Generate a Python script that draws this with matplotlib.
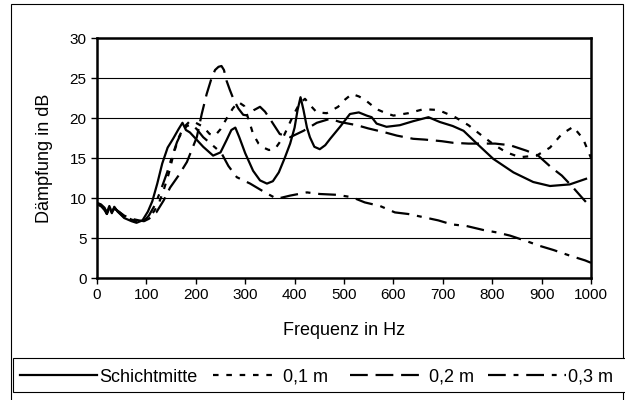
import matplotlib
matplotlib.use("Agg")
import matplotlib.pyplot as plt
from matplotlib.lines import Line2D
from matplotlib.patches import Rectangle

plt.rcParams['font.family'] = ['Liberation Sans', 'DejaVu Sans']

# --- data ---
f_mitte = [0, 8, 15, 20, 25, 30, 35, 42, 55, 70, 80, 92, 103, 112, 122, 132, 143, 154, 165, 173,
           180, 188, 200, 215, 235, 250, 262, 272, 280, 288, 300, 316, 330, 344, 356, 368, 380,
           391, 400, 406, 412, 418, 425, 431, 440, 451, 462, 472, 492, 512, 530, 546, 556, 566,
           586, 613, 640, 671, 694, 720, 742, 769, 802, 843, 883, 917, 957, 990]
d_mitte = [9.4, 9.2, 8.8, 8.2, 9.0, 8.1, 8.9, 8.3, 7.5, 7.1, 6.9, 7.2, 8.3, 9.6, 11.8, 14.3, 16.3,
           17.4, 18.6, 19.4, 18.5, 18.2, 17.4, 16.4, 15.3, 15.7, 17.2, 18.5, 18.8, 17.6, 15.6, 13.4,
           12.2, 11.8, 12.1, 13.2, 15.0, 16.8, 18.8, 21.0, 22.6, 21.0, 18.8, 17.6, 16.4, 16.1, 16.6,
           17.4, 18.9, 20.5, 20.7, 20.3, 20.1, 19.3, 18.9, 19.1, 19.6, 20.1, 19.5, 19.0, 18.4, 16.8,
           14.9, 13.2, 12.0, 11.5, 11.7, 12.4]

f_01 = [0, 8, 15, 20, 25, 30, 35, 42, 55, 70, 85, 95, 105, 115, 125, 135, 145, 155, 165, 175, 188,
        200, 215, 228, 239, 250, 262, 275, 286, 298, 308, 316, 327, 337, 348, 360, 377, 397, 410,
        421, 433, 445, 465, 488, 502, 516, 530, 542, 556, 570, 585, 600, 630, 661, 691, 725, 752,
        779, 805, 829, 856, 890, 917, 941, 964, 984, 1000]
d_01 = [9.3, 9.1, 8.6, 8.0, 8.9, 8.2, 8.8, 8.4, 7.7, 7.3, 7.0, 7.2, 7.6, 8.3, 9.3, 11.0, 13.0, 15.5,
        17.5, 18.8, 19.6, 19.4, 18.9, 18.0, 17.8, 18.6, 19.9, 21.2, 22.0, 21.5, 19.6, 18.0, 16.8,
        16.3, 16.0, 16.1, 17.6, 20.3, 21.8, 22.4, 21.5, 20.7, 20.6, 21.4, 22.3, 23.0, 22.7, 22.3,
        21.6, 21.0, 20.6, 20.3, 20.6, 21.1, 21.0, 20.1, 19.1, 17.8, 16.6, 15.7, 15.1, 15.3, 16.3,
        18.0, 18.9, 17.4, 15.0]

f_02 = [0, 8, 15, 20, 25, 30, 35, 42, 55, 70, 85, 95, 105, 120, 135, 148, 165, 182, 202, 212, 222,
        232, 239, 246, 252, 257, 262, 269, 276, 286, 296, 306, 318, 330, 340, 350, 370, 391, 418,
        445, 472, 492, 526, 549, 583, 607, 640, 664, 698, 721, 752, 775, 806, 836, 870, 893, 920,
        941, 961, 981, 1000]
d_02 = [9.2, 9.0, 8.7, 8.1, 8.8, 8.3, 8.7, 8.4, 7.8, 7.4, 7.2, 7.1, 7.4, 8.2, 9.7, 11.3, 12.8, 14.5,
        17.6, 20.5, 23.0, 25.0, 26.0, 26.4, 26.5, 26.0, 24.7, 23.5, 22.4, 21.2, 20.4, 20.3, 21.0,
        21.4, 20.8, 19.9, 18.0, 17.6, 18.4, 19.4, 19.9, 19.5, 19.1, 18.7, 18.2, 17.8, 17.4, 17.3,
        17.1, 16.9, 16.8, 16.8, 16.8, 16.6, 15.9, 15.3, 13.8, 12.8, 11.5, 10.1, 8.8]

f_03 = [0, 8, 15, 20, 25, 30, 35, 42, 55, 70, 85, 95, 105, 118, 131, 142, 152, 162, 172, 182, 192,
        202, 215, 230, 245, 252, 266, 283, 310, 340, 364, 391, 425, 451, 485, 516, 542, 573, 603,
        630, 661, 691, 718, 748, 782, 809, 836, 870, 897, 924, 957, 988, 1000]
d_03 = [9.3, 9.0, 8.5, 8.0, 9.1, 7.9, 8.8, 8.3, 7.6, 7.2, 7.0, 7.1, 7.8, 9.2, 11.3, 13.2, 15.2,
        17.0, 18.3, 19.0, 19.2, 18.6, 17.6, 16.8, 16.0, 15.6, 14.0, 12.6, 11.8, 10.7, 9.9, 10.3,
        10.7, 10.5, 10.4, 10.1, 9.45, 9.0, 8.2, 8.0, 7.6, 7.2, 6.7, 6.5, 6.0, 5.7, 5.3, 4.6, 4.0,
        3.5, 2.8, 2.2, 1.9]

labels = ['Schichtmitte', '0,1 m', '0,2 m', '0,3 m']
dash_styles = ['-', (0, (2.5, 3.5)), (0, (8, 3.5)), (0, (8, 3.5, 2.2, 3.5))]

W, H = 625, 400
fig = plt.figure(figsize=(6.25, 4.0), dpi=100)
ax = fig.add_axes([97 / W, 1 - 278 / H, (591 - 97) / W, (278 - 38) / H])

series = [(f_mitte, d_mitte), (f_01, d_01), (f_02, d_02), (f_03, d_03)]
for (f, d), lab, ls in zip(series, labels, dash_styles):
    ax.plot(f, d, color='black', lw=1.6, linestyle=ls, label=lab)

ax.set_xlim(0, 1000)
ax.set_ylim(0, 30)
ax.set_xticks(range(0, 1001, 100))
ax.set_yticks(range(0, 31, 5))
ax.yaxis.grid(True, color='black', lw=0.8)
ax.set_axisbelow(True)
for s in ax.spines.values():
    s.set_linewidth(1.8)
ax.tick_params(direction='out', length=4, width=1, labelsize=11)
ax.set_xlabel('Frequenz in Hz', fontsize=13, labelpad=14)
ax.set_ylabel('Dämpfung in dB', fontsize=13, labelpad=12)

# outer chart border
fig.patches.append(Rectangle((11 / W, -0.05), (623 - 11) / W, 1.04, transform=fig.transFigure,
                             fill=False, edgecolor='black', lw=0.8))

# legend row, drawn by hand (box runs off the right edge like the reference)
fig.patches.append(Rectangle((13 / W, 1 - 392 / H), 640 / W, 34 / H, transform=fig.transFigure,
                             facecolor='white', edgecolor='black', lw=0.8))
leg_y = 1 - 375 / H
handle_px = [(20, 97), (213, 279), (350, 426), (488, 566)]
text_px = [99, 283, 429, 568]
for (x0, x1), tx, lab, ls in zip(handle_px, text_px, labels, dash_styles):
    fig.add_artist(Line2D([x0 / W, x1 / W], [leg_y, leg_y], transform=fig.transFigure,
                          color='black', lw=1.6, linestyle=ls))
    fig.text(tx / W, leg_y, lab, fontsize=13, ha='left', va='center_baseline')

fig.savefig('out.png', dpi=100)
